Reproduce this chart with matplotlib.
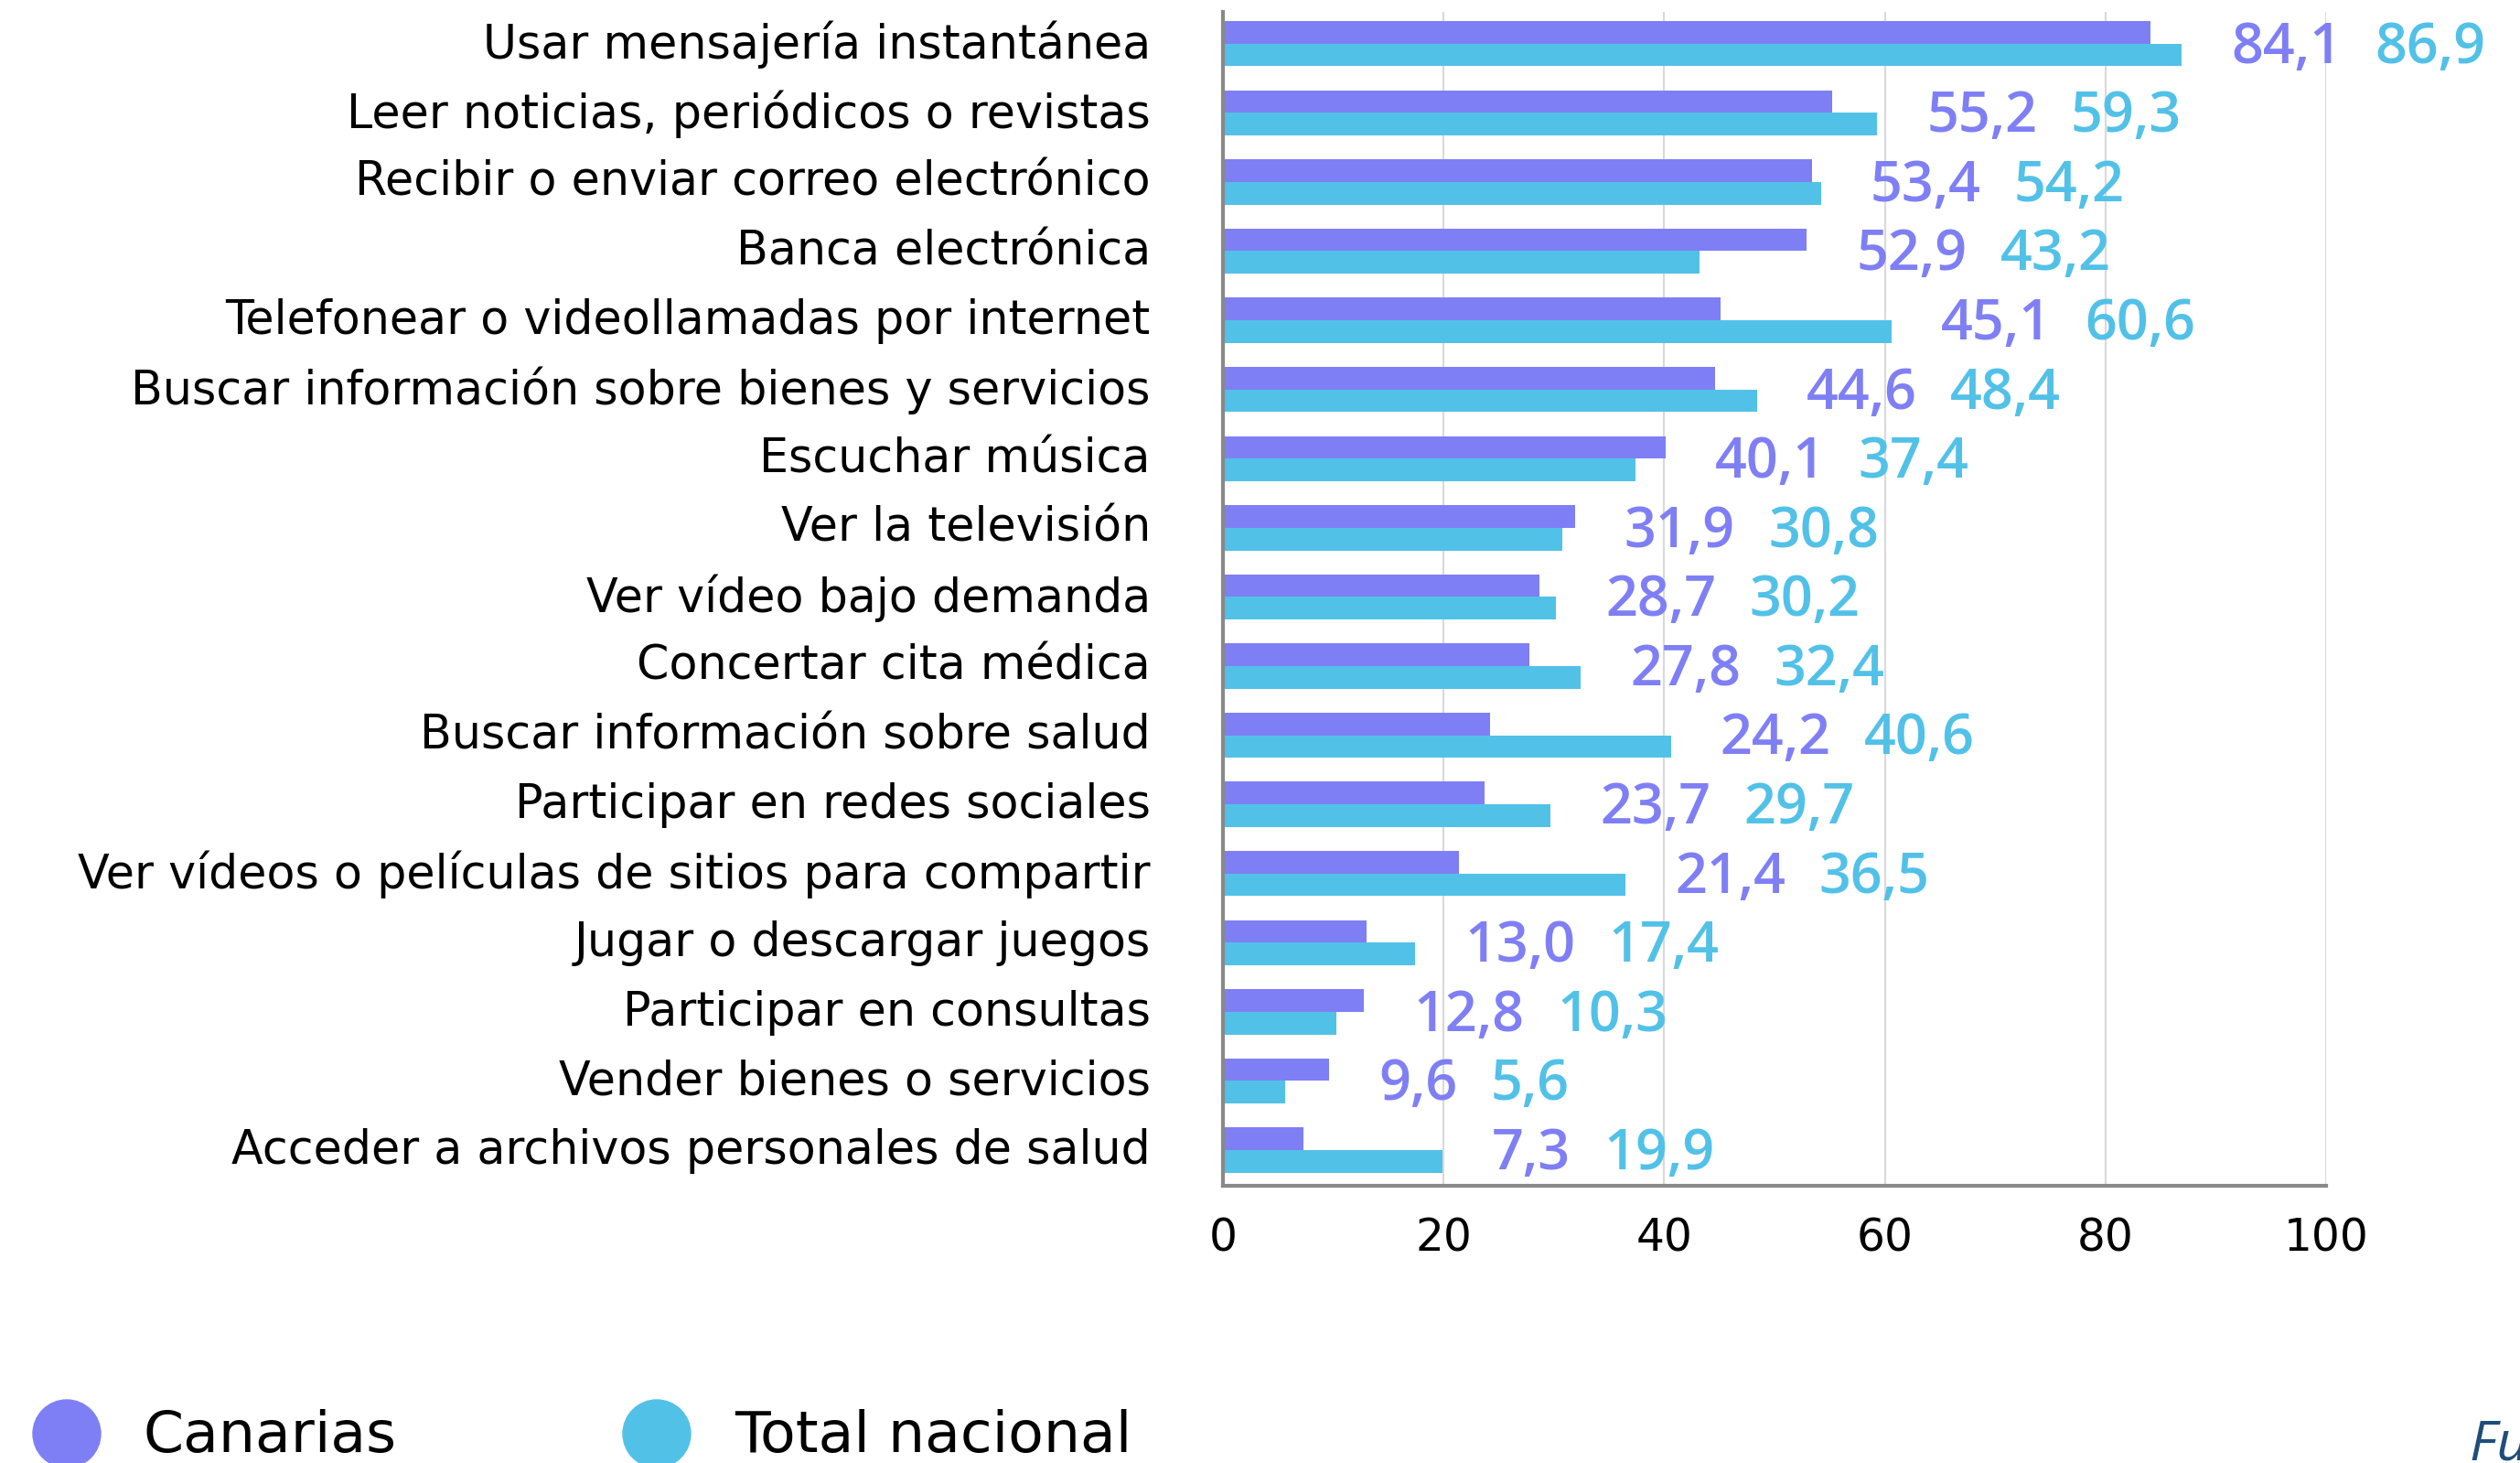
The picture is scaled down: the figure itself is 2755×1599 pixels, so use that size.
import matplotlib
matplotlib.use("Agg")
import matplotlib.pyplot as plt
from matplotlib.patches import Ellipse

categories = [
    "Usar mensajería instantánea",
    "Leer noticias, periódicos o revistas",
    "Recibir o enviar correo electrónico",
    "Banca electrónica",
    "Telefonear o videollamadas por internet",
    "Buscar información sobre bienes y servicios",
    "Escuchar música",
    "Ver la televisión",
    "Ver vídeo bajo demanda",
    "Concertar cita médica",
    "Buscar información sobre salud",
    "Participar en redes sociales",
    "Ver vídeos o películas de sitios para compartir",
    "Jugar o descargar juegos",
    "Participar en consultas",
    "Vender bienes o servicios",
    "Acceder a archivos personales de salud",
]
canarias = [84.1, 55.2, 53.4, 52.9, 45.1, 44.6, 40.1, 31.9, 28.7, 27.8, 24.2, 23.7, 21.4, 13.0, 12.8, 9.6, 7.3]
nacional = [86.9, 59.3, 54.2, 43.2, 60.6, 48.4, 37.4, 30.8, 30.2, 32.4, 40.6, 29.7, 36.5, 17.4, 10.3, 5.6, 19.9]
series_names = ["Canarias", "Total nacional"]
xticks = [0, 20, 40, 60, 80, 100]

C_CAN = "#7f7ff5"
C_NAC = "#52c1e8"
FONT = "Open Sans"
LABFONT = "DejaVu Sans"
plt.rcParams["font.family"] = [FONT, "DejaVu Sans"]

W, H = 2755, 1599
fig = plt.figure(figsize=(W / 100, H / 100), dpi=100)
left, right, top, bottom = 1337, 2543, 13, 1296
ax = fig.add_axes([left / W, 1 - bottom / H, (right - left) / W, (bottom - top) / H])

n = len(categories)
ys = list(range(n))
bh = 0.327
ax.barh([y - bh / 2 for y in ys], canarias, height=bh, color=C_CAN, zorder=3)
ax.barh([y + bh / 2 for y in ys], nacional, height=bh, color=C_NAC, zorder=3)

ax.set_xlim(0, 100)
ax.set_ylim(n - 1 + 0.516, -0.46)
ax.set_xticks(xticks)
ax.set_xticklabels([str(t) for t in xticks], fontsize=35, color="black", family=LABFONT)
label_lift = 0.06  # labels sit slightly above the category centre
ax.set_yticks([y - label_lift for y in ys])
ax.set_yticklabels(categories, fontsize=36.5, color="black", family=LABFONT)
ax.tick_params(axis="y", length=0, pad=57)
ax.tick_params(axis="x", length=0, pad=24)
ax.grid(axis="x", color="#d9d9d9", linewidth=1.5, zorder=0)
ax.set_axisbelow(True)
for s in ["top", "right"]:
    ax.spines[s].set_visible(False)
for s in ["left", "bottom"]:
    ax.spines[s].set_color("#898989")
    ax.spines[s].set_linewidth(3)
    ax.spines[s].set_zorder(4)

for y, c, v in zip(ys, canarias, nacional):
    t = ax.annotate(f"{c:.1f}".replace(".", ","), xy=(max(c, v), y), xytext=(39, -3.5),
                    textcoords="offset points", va="center", ha="left",
                    fontsize=44, color=C_CAN, fontweight="semibold", annotation_clip=False)
    ax.annotate(f"{v:.1f}".replace(".", ","), xy=(1, 0.5), xycoords=t, xytext=(26, 0),
                textcoords="offset points", va="center", ha="left",
                fontsize=44, color=C_NAC, fontweight="semibold", annotation_clip=False)

# legend
r = 37
for cx, tx, name, col in [(73, 157, series_names[0], C_CAN), (718, 803, series_names[1], C_NAC)]:
    fig.add_artist(Ellipse((cx / W, 1 - 1567 / H), 2 * r / W, 2 * r / H,
                           transform=fig.transFigure, color=col))
    fig.text(tx / W, 1 - 1570 / H, name, fontsize=45.5, va="center", ha="left",
             color="black", family=LABFONT)

fig.text(2700 / W, 1 - 1580 / H, "Fuente: INE", fontsize=44, style="italic",
         color="#1f4e79", va="center", ha="left")

fig.savefig("out.png", dpi=100)
